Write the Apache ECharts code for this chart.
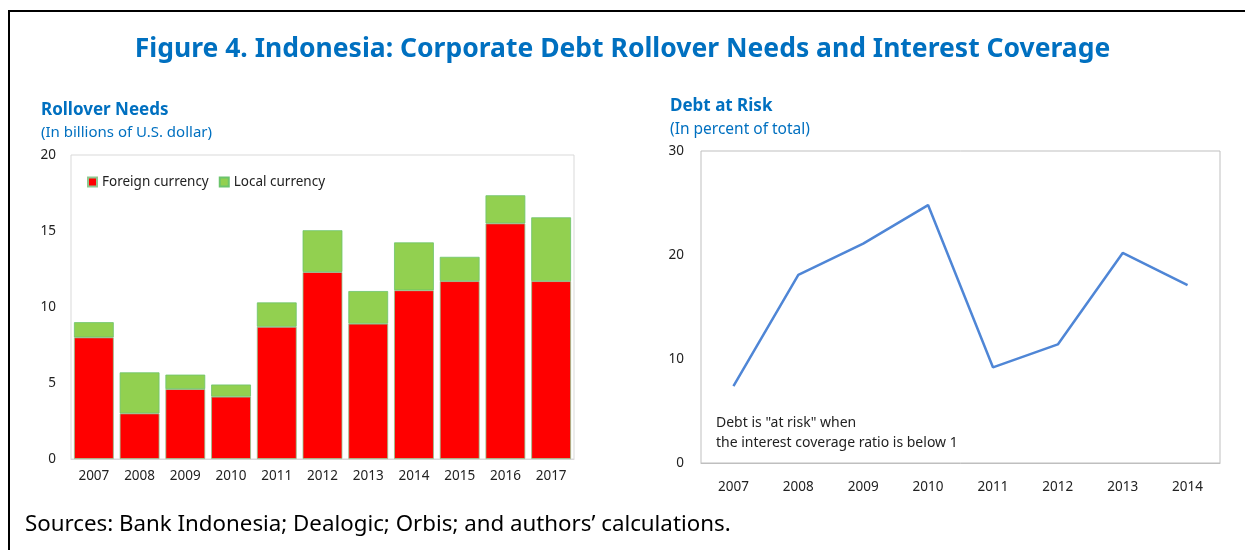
<!DOCTYPE html>
<html>
<head>
<meta charset="utf-8">
<script src="https://cdn.jsdelivr.net/npm/echarts@6/dist/echarts.min.js"></script>
<style>
  html, body { margin: 0; padding: 0; background: #fff; }
  #chart { width: 1245px; height: 550px; }
</style>
</head>
<body>
<div id="chart"></div>
<script>
// Rollover needs, billions of U.S. dollars
const rolloverYears = ['2007', '2008', '2009', '2010', '2011', '2012', '2013', '2014', '2015', '2016', '2017'];
const foreignCurrency = [8.0, 3.0, 4.6, 4.1, 8.7, 12.3, 8.9, 11.1, 11.7, 15.5, 11.7];
const localCurrency = [1.0, 2.7, 0.95, 0.8, 1.6, 2.75, 2.15, 3.15, 1.6, 1.85, 4.2];

// Debt at risk, percent of total
const riskYears = ['2007', '2008', '2009', '2010', '2011', '2012', '2013', '2014'];
const debtAtRisk = [7.4, 18.1, 21.1, 24.8, 9.2, 11.4, 20.2, 17.1];

const FONT = '"Noto Sans", "Open Sans", sans-serif';
const BLUE = '#0070C0';
const TEXT = '#222';

const chart = echarts.init(document.getElementById('chart'), null, { renderer: 'canvas' });

chart.setOption({
  animation: false,
  textStyle: { fontFamily: FONT },
  title: [
    {
      text: 'Figure 4. Indonesia: Corporate Debt Rollover Needs and Interest Coverage',
      left: 'center', top: 31,
      textStyle: { color: BLUE, fontSize: 26.5, fontWeight: 'bold', fontFamily: FONT }
    },
    {
      text: 'Rollover Needs',
      subtext: '(In billions of U.S. dollar)',
      left: 36, top: 97, itemGap: 6,
      textStyle: { color: BLUE, fontSize: 17, fontWeight: 'bold', fontFamily: FONT },
      subtextStyle: { color: BLUE, fontSize: 15, fontFamily: FONT }
    },
    {
      text: 'Debt at Risk',
      subtext: '(In percent of total)',
      left: 665, top: 93, itemGap: 7,
      textStyle: { color: BLUE, fontSize: 17, fontWeight: 'bold', fontFamily: FONT },
      subtextStyle: { color: BLUE, fontSize: 15.5, fontFamily: FONT }
    },
    {
      text: 'Sources: Bank Indonesia; Dealogic; Orbis; and authors\u2019 calculations.',
      left: 20, top: 509,
      textStyle: { color: '#000', fontSize: 22.3, fontWeight: 'normal', fontFamily: FONT }
    }
  ],
  legend: {
    left: 82, top: 170,
    itemWidth: 9, itemHeight: 9, itemGap: 10,
    icon: 'rect',
    textStyle: { color: TEXT, fontSize: 13.5, fontFamily: FONT },
    data: ['Foreign currency', 'Local currency']
  },
  graphic: [
    {
      type: 'rect',
      shape: { x: 9, y: 11, width: 1250, height: 560 },
      style: { fill: 'none', stroke: '#000', lineWidth: 2 },
      silent: true
    },
    {
      type: 'text',
      left: 716, top: 413,
      style: {
        text: 'Debt is "at risk" when\nthe interest coverage ratio is below 1',
        fill: TEXT, font: '14px ' + FONT, lineHeight: 20
      }
    }
  ],
  grid: [
    { left: 71, top: 155, width: 503, height: 304, show: true, borderColor: '#D9D9D9', borderWidth: 1, containLabel: false },
    { left: 701, top: 151, width: 519, height: 312, show: true, borderColor: '#BFBFBF', borderWidth: 1, containLabel: false }
  ],
  xAxis: [
    {
      type: 'category', gridIndex: 0, data: rolloverYears,
      axisLine: { lineStyle: { color: '#D9D9D9' } },
      axisTick: { show: false },
      axisLabel: { color: TEXT, fontSize: 13.5, margin: 10 }
    },
    {
      type: 'category', gridIndex: 1, data: riskYears,
      axisLine: { lineStyle: { color: '#BFBFBF' } },
      axisTick: { show: false },
      axisLabel: { color: TEXT, fontSize: 13.5, margin: 17 }
    }
  ],
  yAxis: [
    {
      type: 'value', gridIndex: 0, min: 0, max: 20, interval: 5,
      axisLine: { show: false }, axisTick: { show: false }, splitLine: { show: false },
      axisLabel: { color: TEXT, fontSize: 13.5, margin: 15 }
    },
    {
      type: 'value', gridIndex: 1, min: 0, max: 30, interval: 10,
      axisLine: { show: false }, axisTick: { show: false }, splitLine: { show: false },
      axisLabel: { color: TEXT, fontSize: 13.5, margin: 17 }
    }
  ],
  series: [
    {
      name: 'Foreign currency', type: 'bar', stack: 'rollover',
      xAxisIndex: 0, yAxisIndex: 0,
      data: foreignCurrency, barCategoryGap: '13%',
      itemStyle: { color: '#FF0000', borderColor: '#8FC88F', borderWidth: 0.8 }
    },
    {
      name: 'Local currency', type: 'bar', stack: 'rollover',
      xAxisIndex: 0, yAxisIndex: 0,
      data: localCurrency, barCategoryGap: '13%',
      itemStyle: { color: '#92D050', borderColor: '#6CC46C', borderWidth: 0.8 }
    },
    {
      name: 'Debt at risk', type: 'line',
      xAxisIndex: 1, yAxisIndex: 1,
      data: debtAtRisk,
      symbol: 'none',
      lineStyle: { color: '#4F86D6', width: 2.5 }
    }
  ]
});
</script>
</body>
</html>
